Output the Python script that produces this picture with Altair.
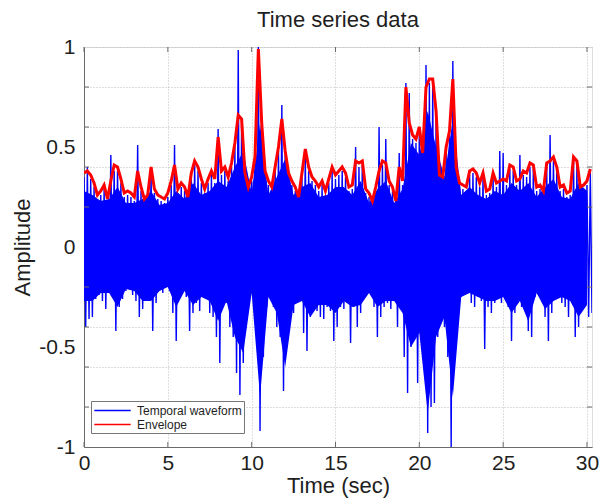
import altair as alt
import pandas as pd

title_text = "Time series data"
x_title = "Time (sec)"
y_title = "Amplitude"
series_names = ["Temporal waveform", "Envelope"]
series_colors = ["#0000ff", "#ff0000"]

# sampling step of the peak values (seconds)
t_step = 0.2

# positive peaks of the waveform at t = 0, 0.2, 0.4, ... 30.2
wave_upper = [
    0.35, 0.40, 0.34, 0.30, 0.24, 0.26, 0.29, 0.23, 0.46, 0.38,
    0.38, 0.32, 0.25, 0.26, 0.25, 0.23, 0.51, 0.28, 0.22, 0.24,
    0.38, 0.27, 0.24, 0.23, 0.22, 0.25, 0.31, 0.51, 0.27, 0.30,
    0.28, 0.23, 0.35, 0.41, 0.38, 0.32, 0.27, 0.32, 0.36, 0.32,
    0.59, 0.36, 0.38, 0.33, 0.40, 0.50, 0.985, 0.62, 0.35, 0.28,
    0.33, 0.43, 1.00, 0.60, 0.36, 0.31, 0.28, 0.38, 0.48, 0.71,
    0.46, 0.35, 0.31, 0.28, 0.23, 0.35, 0.47, 0.38, 0.33, 0.31,
    0.28, 0.31, 0.26, 0.32, 0.38, 0.34, 0.36, 0.38, 0.35, 0.28,
    0.29, 0.50, 0.40, 0.41, 0.27, 0.25, 0.21, 0.28, 0.60, 0.41,
    0.54, 0.31, 0.28, 0.21, 0.47, 0.31, 0.82, 0.77, 0.54, 0.52,
    0.58, 0.45, 0.91, 0.82, 0.82, 0.66, 0.34, 0.33, 0.48, 0.56,
    0.93, 0.38, 0.30, 0.29, 0.28, 0.36, 0.37, 0.35, 0.30, 0.35,
    0.26, 0.27, 0.35, 0.30, 0.48, 0.47, 0.31, 0.39, 0.38, 0.31,
    0.46, 0.36, 0.35, 0.40, 0.39, 0.28, 0.29, 0.26, 0.40, 0.56,
    0.43, 0.38, 0.28, 0.29, 0.25, 0.26, 0.43, 0.41, 0.28, 0.29,
    0.31, 0.37,
]

# negative peaks of the waveform at t = 0.1, 0.3, 0.5, ... 30.3
wave_lower = [
    -0.40, -0.36, -0.35, -0.26, -0.24, -0.27, -0.31, -0.23, -0.24, -0.42,
    -0.30, -0.26, -0.22, -0.21, -0.24, -0.27, -0.35, -0.31, -0.21, -0.24,
    -0.42, -0.28, -0.22, -0.23, -0.20, -0.22, -0.33, -0.47, -0.24, -0.22,
    -0.25, -0.42, -0.33, -0.28, -0.32, -0.24, -0.21, -0.33, -0.35, -0.45,
    -0.58, -0.27, -0.28, -0.40, -0.45, -0.63, -0.74, -0.58, -0.30, -0.25,
    -0.22, -0.45, -0.92, -0.55, -0.30, -0.25, -0.30, -0.40, -0.45, -0.72,
    -0.50, -0.35, -0.33, -0.25, -0.26, -0.43, -0.52, -0.35, -0.30, -0.32,
    -0.35, -0.36, -0.30, -0.32, -0.47, -0.40, -0.30, -0.31, -0.28, -0.48,
    -0.30, -0.40, -0.33, -0.25, -0.22, -0.24, -0.30, -0.45, -0.35, -0.30,
    -0.28, -0.31, -0.27, -0.40, -0.30, -0.55, -0.73, -0.50, -0.40, -0.68,
    -0.45, -0.60, -0.93, -0.80, -0.78, -0.45, -0.38, -0.40, -0.55, -1.00,
    -0.45, -0.27, -0.25, -0.20, -0.21, -0.28, -0.30, -0.25, -0.27, -0.51,
    -0.30, -0.33, -0.28, -0.26, -0.28, -0.26, -0.30, -0.47, -0.33, -0.28,
    -0.30, -0.27, -0.42, -0.45, -0.25, -0.24, -0.27, -0.35, -0.47, -0.33,
    -0.25, -0.24, -0.28, -0.30, -0.35, -0.28, -0.45, -0.40, -0.28, -0.27,
    -0.35, -0.33,
]

# envelope at t = 0, 0.2, 0.4, ... 30.2
envelope = [
    0.37, 0.38, 0.36, 0.32, 0.26, 0.28, 0.31, 0.24, 0.33, 0.41,
    0.40, 0.34, 0.27, 0.28, 0.27, 0.25, 0.38, 0.30, 0.24, 0.26,
    0.40, 0.29, 0.26, 0.25, 0.24, 0.27, 0.33, 0.41, 0.29, 0.32,
    0.30, 0.25, 0.37, 0.43, 0.40, 0.34, 0.29, 0.34, 0.38, 0.34,
    0.55, 0.38, 0.40, 0.35, 0.42, 0.52, 0.66, 0.64, 0.37, 0.30,
    0.35, 0.45, 0.99, 0.62, 0.38, 0.33, 0.30, 0.40, 0.50, 0.64,
    0.48, 0.37, 0.33, 0.30, 0.25, 0.37, 0.49, 0.40, 0.35, 0.33,
    0.30, 0.33, 0.28, 0.34, 0.40, 0.36, 0.38, 0.40, 0.37, 0.30,
    0.31, 0.43, 0.42, 0.43, 0.29, 0.27, 0.23, 0.30, 0.38, 0.43,
    0.42, 0.33, 0.30, 0.23, 0.40, 0.33, 0.80, 0.62, 0.56, 0.54,
    0.60, 0.47, 0.80, 0.84, 0.84, 0.68, 0.36, 0.35, 0.50, 0.58,
    0.84, 0.40, 0.32, 0.31, 0.30, 0.38, 0.39, 0.37, 0.32, 0.37,
    0.28, 0.29, 0.37, 0.32, 0.33, 0.34, 0.33, 0.41, 0.40, 0.33,
    0.34, 0.38, 0.37, 0.42, 0.41, 0.30, 0.31, 0.28, 0.42, 0.43,
    0.45, 0.40, 0.30, 0.31, 0.27, 0.28, 0.45, 0.43, 0.30, 0.31,
    0.33, 0.39,
]

# solid (dense) core of the waveform, read every 0.5 s (t = 0 ... 30)
core_step = 0.5
core_top = [
    0.28, 0.26, 0.23, 0.24, 0.30, 0.22, 0.22, 0.24, 0.28, 0.21,
    0.22, 0.28, 0.24, 0.32, 0.26, 0.28, 0.33, 0.30, 0.40, 0.48,
    0.27, 0.62, 0.26, 0.35, 0.44, 0.26, 0.30, 0.32, 0.25, 0.26,
    0.30, 0.30, 0.26, 0.33, 0.22, 0.29, 0.33, 0.22, 0.29, 0.52,
    0.46, 0.68, 0.50, 0.35, 0.64, 0.26, 0.30, 0.26, 0.24, 0.28,
    0.26, 0.32, 0.28, 0.32, 0.25, 0.30, 0.34, 0.25, 0.24, 0.32,
    0.28,
]
core_bottom = [
    -0.27, -0.27, -0.23, -0.23, -0.30, -0.21, -0.22, -0.27, -0.27, -0.22,
    -0.20, -0.30, -0.22, -0.29, -0.25, -0.27, -0.37, -0.27, -0.45, -0.53,
    -0.23, -0.75, -0.25, -0.33, -0.60, -0.29, -0.27, -0.35, -0.29, -0.29,
    -0.33, -0.27, -0.30, -0.29, -0.23, -0.30, -0.27, -0.27, -0.33, -0.50,
    -0.43, -0.83, -0.45, -0.35, -0.75, -0.25, -0.23, -0.25, -0.27, -0.27,
    -0.25, -0.33, -0.27, -0.37, -0.23, -0.31, -0.27, -0.25, -0.27, -0.35,
    -0.29,
]

x_domain = [0, 30.3]
y_domain = [-1, 1]
x_ticks = [0, 5, 10, 15, 20, 25, 30]
y_ticks = [-1, -0.8, -0.6, -0.5, -0.4, -0.2, 0, 0.2, 0.4, 0.5, 0.6, 0.8, 1]
y_minor = [-0.8, -0.6, -0.4, -0.2, 0.2, 0.4, 0.6, 0.8]

# ---- tables built from the arrays ----
wave_rows = []
for i, (u, l) in enumerate(zip(wave_upper, wave_lower)):
    wave_rows.append({"t": round(i * t_step, 2), "v": u, "series": series_names[0]})
    wave_rows.append({"t": round(i * t_step + t_step / 2, 2), "v": l, "series": series_names[0]})
wave_df = pd.DataFrame(wave_rows)
env_df = pd.DataFrame({
    "t": [round(i * t_step, 2) for i in range(len(envelope))],
    "v": envelope,
    "series": series_names[1],
})
core_df = pd.DataFrame({
    "t": [round(i * core_step, 2) for i in range(len(core_top))],
    "v": core_top,
    "v2": core_bottom,
})
xt_df = pd.DataFrame({"t": x_ticks})
yt_df = pd.DataFrame({"v": y_minor})

FONT = "Liberation Sans"
TXT = "#1e1e1e"
AXC = "#6a6a6a"
GRID = "#bcbcbc"

x_axis = alt.Axis(
    values=x_ticks, grid=True, gridDash=[1, 2], gridColor=GRID,
    ticks=False, domainColor=AXC, labelFontSize=21, labelFont=FONT,
    labelColor=TXT, labelPadding=5, labelFlush=False, labelOverlap=False,
    title=x_title, titleFontSize=22, titleFont=FONT, titleFontWeight="normal",
    titleColor=TXT, titlePadding=2,
)
y_axis = alt.Axis(
    values=y_ticks, grid=True, gridDash=[1, 2], gridColor=GRID,
    gridOpacity={"condition": {"test": "abs(datum.value) == 0.5", "value": 0}, "value": 1},
    labelExpr="indexof([-1,-0.5,0,0.5,1], datum.value) >= 0 ? '' + datum.value : ''",
    ticks=False, domainColor=AXC, labelFontSize=21, labelFont=FONT,
    labelColor=TXT, labelPadding=9, labelFlush=False, labelOverlap=False,
    title=y_title, titleFontSize=22, titleFont=FONT, titleFontWeight="normal",
    titleColor=TXT, titlePadding=4,
)
x_scale = alt.Scale(domain=x_domain, nice=False, zero=False)
y_scale = alt.Scale(domain=y_domain, nice=False, zero=False)
x_enc = alt.X("t:Q", scale=x_scale, axis=x_axis)
y_enc = alt.Y("v:Q", scale=y_scale, axis=y_axis)
color_enc = alt.Color(
    "series:N",
    scale=alt.Scale(domain=series_names, range=series_colors),
    sort=series_names,
    legend=alt.Legend(
        title=None, orient="none", legendX=7, legendY=354,
        fillColor="white", strokeColor="#777777", padding=2,
        labelFont=FONT, labelFontSize=12, labelColor=TXT,
        symbolType="M-2.8,0H2.8", symbolSize=169, symbolStrokeWidth=1.5,
        symbolOffset=12, labelOffset=17, rowPadding=0,
    ),
)

core = alt.Chart(core_df).mark_area(color="#0000ff", opacity=1, clip=True).encode(
    x=x_enc, y=y_enc, y2="v2:Q"
)
wave = alt.Chart(wave_df).mark_line(strokeWidth=1.4, clip=True).encode(
    x=x_enc, y=y_enc, color=color_enc
)
env = alt.Chart(env_df).mark_line(strokeWidth=3, clip=True).encode(
    x=x_enc, y=y_enc, color=color_enc
)

tick_color = "#6a6a6a"
xt_bottom = alt.Chart(xt_df).mark_rule(color=tick_color, strokeWidth=1).encode(
    x=x_enc, y=alt.value(400), y2=alt.value(395))
xt_top = alt.Chart(xt_df).mark_rule(color=tick_color, strokeWidth=1).encode(
    x=x_enc, y=alt.value(0), y2=alt.value(5))
yt_left = alt.Chart(yt_df).mark_rule(color=tick_color, strokeWidth=1).encode(
    y=y_enc, x=alt.value(0), x2=alt.value(5))
yt_right = alt.Chart(yt_df).mark_rule(color=tick_color, strokeWidth=1).encode(
    y=y_enc, x=alt.value(508), x2=alt.value(503))

chart = alt.layer(core, wave, env, xt_bottom, xt_top, yt_left, yt_right).properties(
    width=508, height=400,
    title=alt.TitleParams(title_text, fontSize=22, font=FONT, fontWeight="normal",
                          color=TXT, anchor="middle", offset=4),
    autosize=alt.AutoSizeParams(type="none"),
    padding={"left": 84, "top": 47, "right": 21, "bottom": 51},
).configure_view(stroke=AXC, strokeWidth=1).configure(background="white")

chart.save("out.html", embed_options={"renderer": "svg", "actions": False})
